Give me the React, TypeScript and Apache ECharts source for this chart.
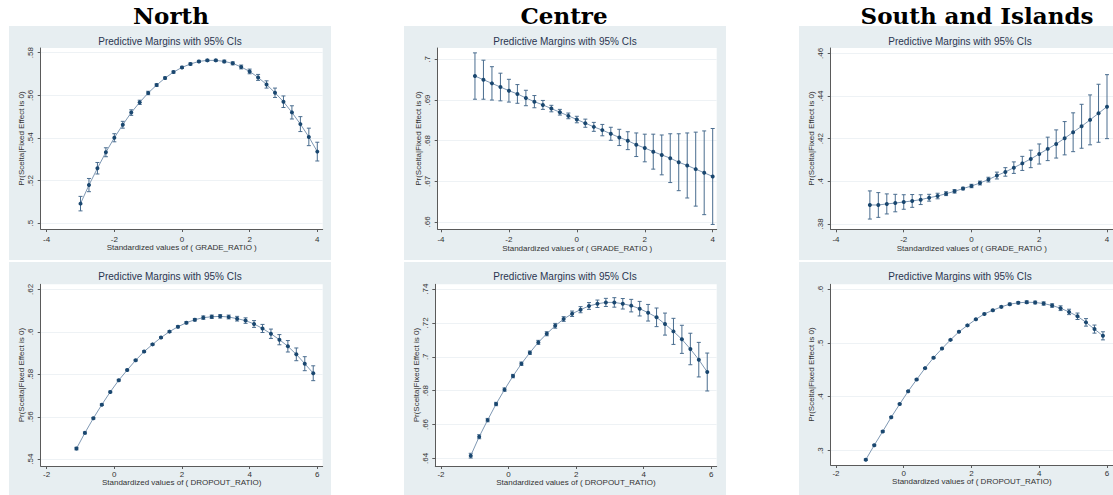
import React, { useEffect, useRef } from "react";
import * as echarts from "echarts";

// ---- data ----
const gradeX = [-3, -2.75, -2.5, -2.25, -2, -1.75, -1.5, -1.25, -1, -0.75, -0.5, -0.25, 0, 0.25, 0.5, 0.75, 1, 1.25, 1.5, 1.75, 2, 2.25, 2.5, 2.75, 3, 3.25, 3.5, 3.75, 4];
const dropoutX = [-1.12, -0.87, -0.62, -0.37, -0.12, 0.13, 0.38, 0.63, 0.88, 1.13, 1.38, 1.63, 1.88, 2.13, 2.38, 2.63, 2.88, 3.13, 3.38, 3.63, 3.88, 4.13, 4.38, 4.63, 4.88, 5.13, 5.38, 5.63, 5.88];

const northGrade = [0.5092, 0.5179, 0.5258, 0.5333, 0.5401, 0.5462, 0.5519, 0.5567, 0.5611, 0.5648, 0.5681, 0.5709, 0.5731, 0.5747, 0.5759, 0.5764, 0.5764, 0.5759, 0.5750, 0.5733, 0.5712, 0.5684, 0.5651, 0.5612, 0.5570, 0.5520, 0.5465, 0.5405, 0.5336];
const northGradeCI = [0.0034, 0.0031, 0.0027, 0.0021, 0.0019, 0.0016, 0.0013, 0.0010, 0.0008, 0.0006, 0.0005, 0.0005, 0.0005, 0.0005, 0.0005, 0.0005, 0.0005, 0.0006, 0.0007, 0.0009, 0.0011, 0.0014, 0.0017, 0.0022, 0.0027, 0.0031, 0.0035, 0.0041, 0.0044];

const centreGrade = [0.6959, 0.6950, 0.6941, 0.6932, 0.6923, 0.6915, 0.6905, 0.6896, 0.6888, 0.6879, 0.6870, 0.6861, 0.6852, 0.6843, 0.6834, 0.6826, 0.6817, 0.6808, 0.6800, 0.6790, 0.6782, 0.6773, 0.6765, 0.6757, 0.6747, 0.6739, 0.6730, 0.6721, 0.6712];
const centreGradeCI = [0.0057, 0.0048, 0.0041, 0.0034, 0.0028, 0.0023, 0.0019, 0.0015, 0.0011, 0.0008, 0.0007, 0.0007, 0.0008, 0.0010, 0.0011, 0.0014, 0.0016, 0.0020, 0.0022, 0.0029, 0.0034, 0.0043, 0.0049, 0.0060, 0.0070, 0.0080, 0.0091, 0.0103, 0.0118];

const southGrade = [0.3889, 0.3889, 0.3894, 0.3898, 0.3903, 0.3908, 0.3914, 0.3923, 0.3931, 0.3942, 0.3953, 0.3966, 0.3978, 0.3992, 0.4008, 0.4027, 0.4044, 0.4064, 0.4084, 0.4105, 0.4128, 0.4152, 0.4175, 0.4202, 0.4230, 0.4258, 0.4288, 0.4319, 0.4350];
const southGradeCI = [0.0066, 0.0058, 0.0047, 0.0041, 0.0034, 0.0030, 0.0023, 0.0016, 0.0013, 0.0009, 0.0008, 0.0006, 0.0008, 0.0009, 0.0011, 0.0016, 0.0020, 0.0027, 0.0033, 0.0041, 0.0047, 0.0055, 0.0066, 0.0078, 0.0091, 0.0103, 0.0117, 0.0136, 0.0150];

const northDropout = [0.5450, 0.5524, 0.5593, 0.5657, 0.5717, 0.5772, 0.5820, 0.5866, 0.5907, 0.5941, 0.5973, 0.6001, 0.6024, 0.6043, 0.6057, 0.6067, 0.6071, 0.6073, 0.6070, 0.6062, 0.6053, 0.6037, 0.6016, 0.5991, 0.5963, 0.5932, 0.5894, 0.5850, 0.5805];
const northDropoutCI = [0.0006, 0.0005, 0.0004, 0.0004, 0.0004, 0.0004, 0.0004, 0.0004, 0.0004, 0.0004, 0.0004, 0.0004, 0.0005, 0.0005, 0.0006, 0.0008, 0.0008, 0.0008, 0.0009, 0.0011, 0.0013, 0.0016, 0.0019, 0.0022, 0.0024, 0.0027, 0.0030, 0.0033, 0.0035];

const centreDropout = [0.6416, 0.6528, 0.6626, 0.6721, 0.6806, 0.6886, 0.6959, 0.7024, 0.7085, 0.7136, 0.7183, 0.7223, 0.7254, 0.7278, 0.7300, 0.7313, 0.7321, 0.7321, 0.7313, 0.7302, 0.7284, 0.7260, 0.7233, 0.7193, 0.7150, 0.7103, 0.7046, 0.6983, 0.6910];
const centreDropoutCI = [0.0014, 0.0012, 0.0010, 0.0010, 0.0010, 0.0010, 0.0010, 0.0010, 0.0012, 0.0012, 0.0014, 0.0014, 0.0016, 0.0018, 0.0020, 0.0022, 0.0024, 0.0028, 0.0031, 0.0037, 0.0043, 0.0049, 0.0055, 0.0065, 0.0077, 0.0083, 0.0093, 0.0102, 0.0112];

const southDropout = [0.2831, 0.3100, 0.3356, 0.3619, 0.3863, 0.4100, 0.4319, 0.4531, 0.4725, 0.4894, 0.5056, 0.5206, 0.5325, 0.5438, 0.5538, 0.5606, 0.5669, 0.5719, 0.5744, 0.5756, 0.5750, 0.5731, 0.5694, 0.5644, 0.5575, 0.5494, 0.5381, 0.5256, 0.5131];
const southDropoutCI = [0.0015, 0.0015, 0.0015, 0.0015, 0.0014, 0.0013, 0.0012, 0.0012, 0.0012, 0.0012, 0.0012, 0.0012, 0.0012, 0.0012, 0.0014, 0.0016, 0.0018, 0.0020, 0.0020, 0.0025, 0.0025, 0.0030, 0.0032, 0.0044, 0.0050, 0.0060, 0.0070, 0.0075, 0.0075];

const gradeTicks = [-4, -2, 0, 2, 4];
const dropoutTicks = [-2, 0, 2, 4, 6];
const northGradeYTicks = [0.5, 0.52, 0.54, 0.56, 0.58];
const centreGradeYTicks = [0.66, 0.67, 0.68, 0.69, 0.7];
const southGradeYTicks = [0.38, 0.4, 0.42, 0.44, 0.46];
const northDropoutYTicks = [0.54, 0.56, 0.58, 0.6, 0.62];
const centreDropoutYTicks = [0.64, 0.66, 0.68, 0.7, 0.72, 0.74];
const southDropoutYTicks = [0.3, 0.4, 0.5, 0.6];

const regions = ["North", "Centre", "South and Islands"];
const panelTitle = "Predictive Margins with 95% CIs";
const yName = "Pr(Scelta|Fixed Effect is 0)";
const gradeName = "Standardized values of ( GRADE_RATIO )";
const dropoutName = "Standardized values of ( DROPOUT_RATIO)";

// ---- layout / styling ----
const BG = "#e7eef1";
const NAVY = "#1a476f";
const LINE = "#7f98b3";
const BAR = "#4a6d8f";
const AXIS = "#5a5a5a";
const TXT = "#2a3550";
const SANS = '"Liberation Sans", Arial, sans-serif';

const panels = [
  { x: gradeX, y: northGrade, ci: northGradeCI, xt: gradeTicks, yt: northGradeYTicks, xn: gradeName, grid: [40.7, 48, 282, 181], xr: [-4.177, 4.16], yr: [0.4973, 0.5822], row: 0 },
  { x: gradeX, y: centreGrade, ci: centreGradeCI, xt: gradeTicks, yt: centreGradeYTicks, xn: gradeName, grid: [437.7, 48, 279, 181.3], xr: [-4.097, 4.118], yr: [0.6582, 0.7028], row: 0 },
  { x: gradeX, y: southGrade, ci: southGradeCI, xt: gradeTicks, yt: southGradeYTicks, xn: gradeName, grid: [830.7, 48, 282.3, 181.3], xr: [-4.156, 4.177], yr: [0.3775, 0.4625], row: 0 },
  { x: dropoutX, y: northDropout, ci: northDropoutCI, xt: dropoutTicks, yt: northDropoutYTicks, xn: dropoutName, grid: [40.7, 284.3, 282, 181.7], xr: [-2.177, 6.16], yr: [0.5368, 0.6224], row: 1 },
  { x: dropoutX, y: centreDropout, ci: centreDropoutCI, xt: dropoutTicks, yt: centreDropoutYTicks, xn: dropoutName, grid: [435.3, 284.3, 281.4, 181.7], xr: [-2.169, 6.16], yr: [0.6355, 0.7428], row: 1 },
  { x: dropoutX, y: southDropout, ci: southDropoutCI, xt: dropoutTicks, yt: southDropoutYTicks, xn: dropoutName, grid: [830.7, 284.3, 282.3, 180.7], xr: [-2.156, 6.177], yr: [0.2732, 0.6088], row: 1 },
];

const colBg = [[9, 322], [404, 322], [799, 322]];
const rowBg = [[26, 234], [262, 233]];
const headerX = [171, 564, 977];
const titleY = [41, 276.7];

const fmtY = (v: number) => v.toFixed(2).replace(/^0/, "").replace(/0$/, "");

const renderBars = (params: any, api: any) => {
  const xv = api.value(0);
  const a = api.coord([xv, api.value(2)]);
  const b = api.coord([xv, api.value(1)]);
  const w = 2;
  const st = { stroke: BAR, lineWidth: 1 };
  return {
    type: "group",
    children: [
      { type: "line", shape: { x1: a[0], y1: a[1], x2: b[0], y2: b[1] }, style: st },
      { type: "line", shape: { x1: a[0] - w, y1: a[1], x2: a[0] + w, y2: a[1] }, style: st },
      { type: "line", shape: { x1: b[0] - w, y1: b[1], x2: b[0] + w, y2: b[1] }, style: st },
    ],
  };
};

export default function App() {
  const ref = useRef<HTMLDivElement>(null);
  useEffect(() => {
    document.body.style.margin = "0";
    const chart = echarts.init(ref.current!, null, { renderer: "svg" });

    const graphic: any[] = [];
    colBg.forEach((c) => {
      rowBg.forEach((r) => {
        graphic.push({ type: "rect", z: -100, shape: { x: c[0], y: r[0], width: c[1], height: r[1] }, style: { fill: BG } });
      });
    });
    regions.forEach((name, i) => {
      graphic.push({ type: "text", x: headerX[i], y: 15, style: { text: name, font: 'bold 23px "DejaVu Serif", serif', fill: "#000", align: "center", verticalAlign: "middle" } });
      titleY.forEach((ty) => {
        graphic.push({ type: "text", x: colBg[i][0] + colBg[i][1] / 2, y: ty, style: { text: panelTitle, font: `10px ${SANS}`, fill: TXT, align: "center", verticalAlign: "middle" } });
      });
    });

    const grid: any[] = [];
    const xAxis: any[] = [];
    const yAxis: any[] = [];
    const series: any[] = [];
    panels.forEach((p, i) => {
      grid.push({ left: p.grid[0], top: p.grid[1], width: p.grid[2], height: p.grid[3], show: true, backgroundColor: "#ffffff", borderWidth: 0, containLabel: false, outerBoundsMode: "none" });
      xAxis.push({
        type: "value", gridIndex: i, min: p.xr[0], max: p.xr[1],
        axisLine: { show: true, onZero: false, lineStyle: { color: AXIS, width: 1 } },
        axisTick: { show: true, length: 3, customValues: p.xt, lineStyle: { color: AXIS } },
        axisLabel: { customValues: p.xt, fontSize: 8, color: "#333", fontFamily: SANS, margin: p.row === 0 ? 6 : 4 },
        splitLine: { show: false },
        name: p.xn, nameLocation: "middle", nameGap: p.row === 0 ? 14 : 12,
        nameTextStyle: { fontSize: 8, color: "#333", fontFamily: SANS },
      });
      yAxis.push({
        type: "value", gridIndex: i, min: p.yr[0], max: p.yr[1],
        axisLine: { show: true, onZero: false, lineStyle: { color: AXIS, width: 1 } },
        axisTick: { show: true, length: 3, customValues: p.yt, lineStyle: { color: AXIS } },
        axisLabel: { customValues: p.yt, rotate: 90, fontSize: 8, color: "#333", fontFamily: SANS, margin: 6, formatter: fmtY },
        splitLine: { show: true, lineStyle: { color: "#eef2f5", width: 1 } },
        name: yName, nameLocation: "middle", nameGap: 15,
        nameTextStyle: { fontSize: 8, color: "#333", fontFamily: SANS },
      });
      series.push({
        type: "custom", xAxisIndex: i, yAxisIndex: i,
        data: p.x.map((xv, j) => [xv, p.y[j] - p.ci[j], p.y[j] + p.ci[j]]),
        encode: { x: 0, y: [1, 2] },
        renderItem: renderBars, z: 2, silent: true,
      });
      series.push({
        type: "line", xAxisIndex: i, yAxisIndex: i,
        data: p.x.map((xv, j) => [xv, p.y[j]]),
        symbol: "circle", symbolSize: 4, showAllSymbol: true,
        itemStyle: { color: NAVY },
        lineStyle: { color: LINE, width: 1 },
        z: 3, silent: true,
      });
    });

    chart.setOption({ animation: false, backgroundColor: "#ffffff", graphic, grid, xAxis, yAxis, series });
    return () => chart.dispose();
  }, []);
  return <div ref={ref} style={{ width: 1113, height: 495 }} />;
}
